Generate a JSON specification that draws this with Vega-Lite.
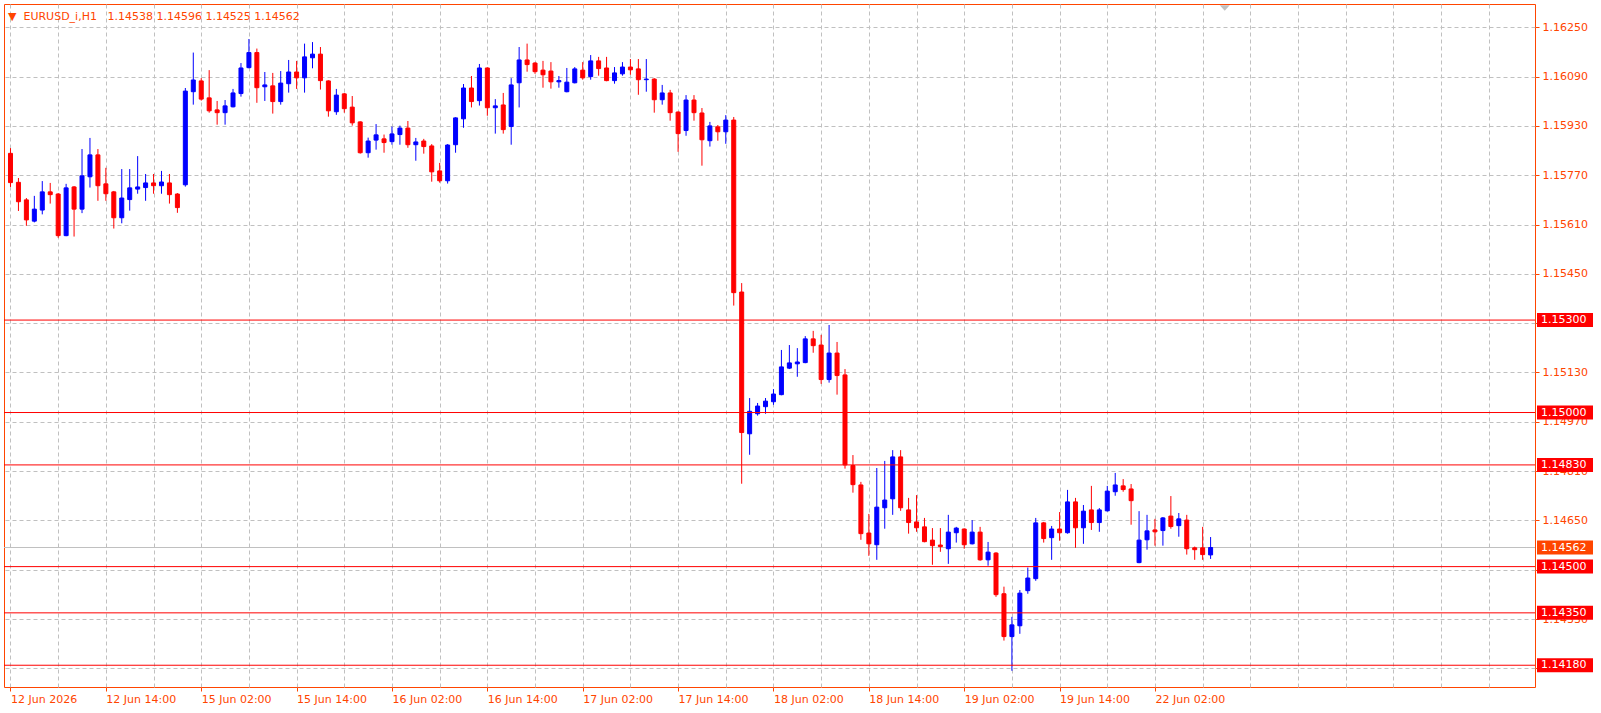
{
  "$schema": "https://vega.github.io/schema/vega-lite/v6.json",
  "width": 1531,
  "height": 683,
  "autosize": {"type": "none"},
  "padding": {"left": 4, "top": 4, "right": 66, "bottom": 26},
  "background": "white",
  "config": {
    "view": {"stroke": "#ff4500", "strokeWidth": 1},
    "font": "DejaVu Sans",
    "axis": {"labelFont": "DejaVu Sans", "labelFontSize": 11}
  },
  "title": {
    "text": "▼\u00a0\u00a0EURUSD_i,H1\u00a0\u00a0\u00a01.14538 1.14596 1.14525 1.14562",
    "anchor": "start",
    "orient": "top",
    "frame": "group",
    "offset": -18,
    "dx": 4,
    "baseline": "top",
    "font": "DejaVu Sans",
    "fontSize": 11,
    "fontWeight": "normal",
    "color": "#ff4500"
  },
  "datasets": {
    "bars": [
      {"t":"2026-06-12 02:00","i":0,"o":1.15841,"h":1.15858,"l":1.15732,"c":1.15746},
      {"t":"2026-06-12 03:00","i":1,"o":1.15747,"h":1.15761,"l":1.15654,"c":1.15684},
      {"t":"2026-06-12 04:00","i":2,"o":1.15690,"h":1.15696,"l":1.15606,"c":1.15625},
      {"t":"2026-06-12 05:00","i":3,"o":1.15621,"h":1.15703,"l":1.15617,"c":1.15660},
      {"t":"2026-06-12 06:00","i":4,"o":1.15657,"h":1.15751,"l":1.15643,"c":1.15716},
      {"t":"2026-06-12 07:00","i":5,"o":1.15716,"h":1.15745,"l":1.15678,"c":1.15707},
      {"t":"2026-06-12 08:00","i":6,"o":1.15709,"h":1.15712,"l":1.15567,"c":1.15574},
      {"t":"2026-06-12 09:00","i":7,"o":1.15574,"h":1.15742,"l":1.15572,"c":1.15729},
      {"t":"2026-06-12 10:00","i":8,"o":1.15732,"h":1.15735,"l":1.15571,"c":1.15660},
      {"t":"2026-06-12 11:00","i":9,"o":1.15660,"h":1.15855,"l":1.15647,"c":1.15768},
      {"t":"2026-06-12 12:00","i":10,"o":1.15765,"h":1.15891,"l":1.15730,"c":1.15836},
      {"t":"2026-06-12 13:00","i":11,"o":1.15836,"h":1.15855,"l":1.15687,"c":1.15736},
      {"t":"2026-06-12 14:00","i":12,"o":1.15742,"h":1.15794,"l":1.15687,"c":1.15710},
      {"t":"2026-06-12 15:00","i":13,"o":1.15716,"h":1.15719,"l":1.15597,"c":1.15632},
      {"t":"2026-06-12 16:00","i":14,"o":1.15632,"h":1.15790,"l":1.15614,"c":1.15696},
      {"t":"2026-06-12 17:00","i":15,"o":1.15691,"h":1.15790,"l":1.15655,"c":1.15729},
      {"t":"2026-06-12 18:00","i":16,"o":1.15725,"h":1.15832,"l":1.15710,"c":1.15732},
      {"t":"2026-06-12 19:00","i":17,"o":1.15730,"h":1.15774,"l":1.15687,"c":1.15745},
      {"t":"2026-06-12 20:00","i":18,"o":1.15745,"h":1.15774,"l":1.15710,"c":1.15736},
      {"t":"2026-06-12 21:00","i":19,"o":1.15736,"h":1.15784,"l":1.15710,"c":1.15748},
      {"t":"2026-06-12 22:00","i":20,"o":1.15745,"h":1.15774,"l":1.15678,"c":1.15707},
      {"t":"2026-06-12 23:00","i":21,"o":1.15709,"h":1.15712,"l":1.15648,"c":1.15665},
      {"t":"2026-06-15 00:00","i":22,"o":1.15739,"h":1.16053,"l":1.15733,"c":1.16043},
      {"t":"2026-06-15 01:00","i":23,"o":1.16041,"h":1.16168,"l":1.15999,"c":1.16079},
      {"t":"2026-06-15 02:00","i":24,"o":1.16076,"h":1.16085,"l":1.16012,"c":1.16017},
      {"t":"2026-06-15 03:00","i":25,"o":1.16021,"h":1.16111,"l":1.15973,"c":1.15979},
      {"t":"2026-06-15 04:00","i":26,"o":1.15982,"h":1.16011,"l":1.15934,"c":1.15973},
      {"t":"2026-06-15 05:00","i":27,"o":1.15973,"h":1.16014,"l":1.15934,"c":1.15995},
      {"t":"2026-06-15 06:00","i":28,"o":1.15992,"h":1.16050,"l":1.15990,"c":1.16037},
      {"t":"2026-06-15 07:00","i":29,"o":1.16035,"h":1.16134,"l":1.16025,"c":1.16118},
      {"t":"2026-06-15 08:00","i":30,"o":1.16119,"h":1.16212,"l":1.16117,"c":1.16168},
      {"t":"2026-06-15 09:00","i":31,"o":1.16168,"h":1.16181,"l":1.16005,"c":1.16054},
      {"t":"2026-06-15 10:00","i":32,"o":1.16057,"h":1.16105,"l":1.16011,"c":1.16063},
      {"t":"2026-06-15 11:00","i":33,"o":1.16060,"h":1.16102,"l":1.15970,"c":1.16009},
      {"t":"2026-06-15 12:00","i":34,"o":1.16009,"h":1.16108,"l":1.15999,"c":1.16069},
      {"t":"2026-06-15 13:00","i":35,"o":1.16067,"h":1.16144,"l":1.16038,"c":1.16105},
      {"t":"2026-06-15 14:00","i":36,"o":1.16105,"h":1.16141,"l":1.16050,"c":1.16086},
      {"t":"2026-06-15 15:00","i":37,"o":1.16086,"h":1.16197,"l":1.16038,"c":1.16154},
      {"t":"2026-06-15 16:00","i":38,"o":1.16151,"h":1.16202,"l":1.16117,"c":1.16163},
      {"t":"2026-06-15 17:00","i":39,"o":1.16163,"h":1.16186,"l":1.16048,"c":1.16077},
      {"t":"2026-06-15 18:00","i":40,"o":1.16076,"h":1.16078,"l":1.15960,"c":1.15979},
      {"t":"2026-06-15 19:00","i":41,"o":1.15976,"h":1.16050,"l":1.15966,"c":1.16030},
      {"t":"2026-06-15 20:00","i":42,"o":1.16034,"h":1.16037,"l":1.15973,"c":1.15986},
      {"t":"2026-06-15 21:00","i":43,"o":1.15991,"h":1.16027,"l":1.15931,"c":1.15940},
      {"t":"2026-06-15 22:00","i":44,"o":1.15943,"h":1.15945,"l":1.15840,"c":1.15843},
      {"t":"2026-06-15 23:00","i":45,"o":1.15843,"h":1.15892,"l":1.15827,"c":1.15881},
      {"t":"2026-06-16 00:00","i":46,"o":1.15884,"h":1.15936,"l":1.15853,"c":1.15901},
      {"t":"2026-06-16 01:00","i":47,"o":1.15888,"h":1.15902,"l":1.15843,"c":1.15876},
      {"t":"2026-06-16 02:00","i":48,"o":1.15879,"h":1.15928,"l":1.15869,"c":1.15904},
      {"t":"2026-06-16 03:00","i":49,"o":1.15902,"h":1.15931,"l":1.15869,"c":1.15923},
      {"t":"2026-06-16 04:00","i":50,"o":1.15923,"h":1.15946,"l":1.15859,"c":1.15869},
      {"t":"2026-06-16 05:00","i":51,"o":1.15869,"h":1.15891,"l":1.15817,"c":1.15878},
      {"t":"2026-06-16 06:00","i":52,"o":1.15881,"h":1.15888,"l":1.15840,"c":1.15863},
      {"t":"2026-06-16 07:00","i":53,"o":1.15865,"h":1.15871,"l":1.15749,"c":1.15781},
      {"t":"2026-06-16 08:00","i":54,"o":1.15784,"h":1.15810,"l":1.15746,"c":1.15752},
      {"t":"2026-06-16 09:00","i":55,"o":1.15752,"h":1.15871,"l":1.15743,"c":1.15868},
      {"t":"2026-06-16 10:00","i":56,"o":1.15869,"h":1.15958,"l":1.15843,"c":1.15956},
      {"t":"2026-06-16 11:00","i":57,"o":1.15953,"h":1.16066,"l":1.15924,"c":1.16053},
      {"t":"2026-06-16 12:00","i":58,"o":1.16053,"h":1.16092,"l":1.15990,"c":1.16009},
      {"t":"2026-06-16 13:00","i":59,"o":1.16012,"h":1.16131,"l":1.15996,"c":1.16118},
      {"t":"2026-06-16 14:00","i":60,"o":1.16118,"h":1.16120,"l":1.15963,"c":1.15989},
      {"t":"2026-06-16 15:00","i":61,"o":1.15989,"h":1.16017,"l":1.15905,"c":1.15995},
      {"t":"2026-06-16 16:00","i":62,"o":1.15998,"h":1.16037,"l":1.15905,"c":1.15918},
      {"t":"2026-06-16 17:00","i":63,"o":1.15928,"h":1.16085,"l":1.15869,"c":1.16063},
      {"t":"2026-06-16 18:00","i":64,"o":1.16070,"h":1.16186,"l":1.15990,"c":1.16144},
      {"t":"2026-06-16 19:00","i":65,"o":1.16144,"h":1.16197,"l":1.16106,"c":1.16129},
      {"t":"2026-06-16 20:00","i":66,"o":1.16134,"h":1.16137,"l":1.16099,"c":1.16106},
      {"t":"2026-06-16 21:00","i":67,"o":1.16111,"h":1.16141,"l":1.16054,"c":1.16096},
      {"t":"2026-06-16 22:00","i":68,"o":1.16108,"h":1.16137,"l":1.16051,"c":1.16073},
      {"t":"2026-06-16 23:00","i":69,"o":1.16073,"h":1.16092,"l":1.16054,"c":1.16077},
      {"t":"2026-06-17 00:00","i":70,"o":1.16041,"h":1.16118,"l":1.16039,"c":1.16072},
      {"t":"2026-06-17 01:00","i":71,"o":1.16070,"h":1.16121,"l":1.16068,"c":1.16115},
      {"t":"2026-06-17 02:00","i":72,"o":1.16111,"h":1.16137,"l":1.16080,"c":1.16086},
      {"t":"2026-06-17 03:00","i":73,"o":1.16090,"h":1.16160,"l":1.16080,"c":1.16141},
      {"t":"2026-06-17 04:00","i":74,"o":1.16141,"h":1.16154,"l":1.16093,"c":1.16116},
      {"t":"2026-06-17 05:00","i":75,"o":1.16118,"h":1.16154,"l":1.16075,"c":1.16077},
      {"t":"2026-06-17 06:00","i":76,"o":1.16077,"h":1.16121,"l":1.16067,"c":1.16102},
      {"t":"2026-06-17 07:00","i":77,"o":1.16099,"h":1.16137,"l":1.16093,"c":1.16121},
      {"t":"2026-06-17 08:00","i":78,"o":1.16121,"h":1.16147,"l":1.16096,"c":1.16112},
      {"t":"2026-06-17 09:00","i":79,"o":1.16115,"h":1.16147,"l":1.16031,"c":1.16080},
      {"t":"2026-06-17 10:00","i":80,"o":1.16080,"h":1.16147,"l":1.16041,"c":1.16082},
      {"t":"2026-06-17 11:00","i":81,"o":1.16082,"h":1.16085,"l":1.15973,"c":1.16015},
      {"t":"2026-06-17 12:00","i":82,"o":1.16015,"h":1.16063,"l":1.15999,"c":1.16037},
      {"t":"2026-06-17 13:00","i":83,"o":1.16037,"h":1.16047,"l":1.15947,"c":1.15973},
      {"t":"2026-06-17 14:00","i":84,"o":1.15975,"h":1.15977,"l":1.15846,"c":1.15905},
      {"t":"2026-06-17 15:00","i":85,"o":1.15915,"h":1.16030,"l":1.15898,"c":1.16014},
      {"t":"2026-06-17 16:00","i":86,"o":1.16014,"h":1.16030,"l":1.15947,"c":1.15973},
      {"t":"2026-06-17 17:00","i":87,"o":1.15972,"h":1.15988,"l":1.15801,"c":1.15885},
      {"t":"2026-06-17 18:00","i":88,"o":1.15882,"h":1.15943,"l":1.15863,"c":1.15930},
      {"t":"2026-06-17 19:00","i":89,"o":1.15927,"h":1.15933,"l":1.15882,"c":1.15911},
      {"t":"2026-06-17 20:00","i":90,"o":1.15911,"h":1.15965,"l":1.15872,"c":1.15949},
      {"t":"2026-06-17 21:00","i":91,"o":1.15949,"h":1.15959,"l":1.15347,"c":1.15389},
      {"t":"2026-06-17 22:00","i":92,"o":1.15391,"h":1.15420,"l":1.14769,"c":1.14935},
      {"t":"2026-06-17 23:00","i":93,"o":1.14931,"h":1.15047,"l":1.14863,"c":1.15004},
      {"t":"2026-06-18 00:00","i":94,"o":1.14996,"h":1.15031,"l":1.14990,"c":1.15021},
      {"t":"2026-06-18 01:00","i":95,"o":1.15019,"h":1.15047,"l":1.14996,"c":1.15037},
      {"t":"2026-06-18 02:00","i":96,"o":1.15035,"h":1.15076,"l":1.15025,"c":1.15060},
      {"t":"2026-06-18 03:00","i":97,"o":1.15058,"h":1.15203,"l":1.15056,"c":1.15148},
      {"t":"2026-06-18 04:00","i":98,"o":1.15144,"h":1.15219,"l":1.15141,"c":1.15161},
      {"t":"2026-06-18 05:00","i":99,"o":1.15158,"h":1.15209,"l":1.15116,"c":1.15164},
      {"t":"2026-06-18 06:00","i":100,"o":1.15162,"h":1.15248,"l":1.15160,"c":1.15239},
      {"t":"2026-06-18 07:00","i":101,"o":1.15239,"h":1.15265,"l":1.15194,"c":1.15217},
      {"t":"2026-06-18 08:00","i":102,"o":1.15219,"h":1.15252,"l":1.15093,"c":1.15107},
      {"t":"2026-06-18 09:00","i":103,"o":1.15107,"h":1.15284,"l":1.15097,"c":1.15193},
      {"t":"2026-06-18 10:00","i":104,"o":1.15193,"h":1.15229,"l":1.15058,"c":1.15120},
      {"t":"2026-06-18 11:00","i":105,"o":1.15122,"h":1.15141,"l":1.14818,"c":1.14830},
      {"t":"2026-06-18 12:00","i":106,"o":1.14828,"h":1.14862,"l":1.14740,"c":1.14766},
      {"t":"2026-06-18 13:00","i":107,"o":1.14765,"h":1.14775,"l":1.14587,"c":1.14607},
      {"t":"2026-06-18 14:00","i":108,"o":1.14609,"h":1.14671,"l":1.14535,"c":1.14574},
      {"t":"2026-06-18 15:00","i":109,"o":1.14571,"h":1.14820,"l":1.14522,"c":1.14693},
      {"t":"2026-06-18 16:00","i":110,"o":1.14691,"h":1.14843,"l":1.14623,"c":1.14716},
      {"t":"2026-06-18 17:00","i":111,"o":1.14720,"h":1.14878,"l":1.14668,"c":1.14856},
      {"t":"2026-06-18 18:00","i":112,"o":1.14856,"h":1.14878,"l":1.14681,"c":1.14691},
      {"t":"2026-06-18 19:00","i":113,"o":1.14684,"h":1.14723,"l":1.14607,"c":1.14643},
      {"t":"2026-06-18 20:00","i":114,"o":1.14645,"h":1.14732,"l":1.14613,"c":1.14626},
      {"t":"2026-06-18 21:00","i":115,"o":1.14629,"h":1.14658,"l":1.14579,"c":1.14581},
      {"t":"2026-06-18 22:00","i":116,"o":1.14586,"h":1.14625,"l":1.14506,"c":1.14568},
      {"t":"2026-06-18 23:00","i":117,"o":1.14570,"h":1.14625,"l":1.14548,"c":1.14565},
      {"t":"2026-06-19 00:00","i":118,"o":1.14558,"h":1.14668,"l":1.14509,"c":1.14612},
      {"t":"2026-06-19 01:00","i":119,"o":1.14610,"h":1.14629,"l":1.14578,"c":1.14625},
      {"t":"2026-06-19 02:00","i":120,"o":1.14622,"h":1.14624,"l":1.14558,"c":1.14571},
      {"t":"2026-06-19 03:00","i":121,"o":1.14574,"h":1.14651,"l":1.14572,"c":1.14612},
      {"t":"2026-06-19 04:00","i":122,"o":1.14612,"h":1.14629,"l":1.14519,"c":1.14522},
      {"t":"2026-06-19 05:00","i":123,"o":1.14522,"h":1.14580,"l":1.14503,"c":1.14547},
      {"t":"2026-06-19 06:00","i":124,"o":1.14544,"h":1.14547,"l":1.14402,"c":1.14409},
      {"t":"2026-06-19 07:00","i":125,"o":1.14412,"h":1.14435,"l":1.14260,"c":1.14273},
      {"t":"2026-06-19 08:00","i":126,"o":1.14273,"h":1.14337,"l":1.14162,"c":1.14311},
      {"t":"2026-06-19 09:00","i":127,"o":1.14308,"h":1.14424,"l":1.14282,"c":1.14414},
      {"t":"2026-06-19 10:00","i":128,"o":1.14422,"h":1.14497,"l":1.14412,"c":1.14463},
      {"t":"2026-06-19 11:00","i":129,"o":1.14461,"h":1.14658,"l":1.14454,"c":1.14642},
      {"t":"2026-06-19 12:00","i":130,"o":1.14642,"h":1.14645,"l":1.14578,"c":1.14591},
      {"t":"2026-06-19 13:00","i":131,"o":1.14594,"h":1.14632,"l":1.14522,"c":1.14622},
      {"t":"2026-06-19 14:00","i":132,"o":1.14622,"h":1.14677,"l":1.14584,"c":1.14610},
      {"t":"2026-06-19 15:00","i":133,"o":1.14610,"h":1.14749,"l":1.14607,"c":1.14710},
      {"t":"2026-06-19 16:00","i":134,"o":1.14710,"h":1.14723,"l":1.14561,"c":1.14626},
      {"t":"2026-06-19 17:00","i":135,"o":1.14626,"h":1.14700,"l":1.14574,"c":1.14680},
      {"t":"2026-06-19 18:00","i":136,"o":1.14684,"h":1.14762,"l":1.14619,"c":1.14643},
      {"t":"2026-06-19 19:00","i":137,"o":1.14643,"h":1.14690,"l":1.14613,"c":1.14684},
      {"t":"2026-06-19 20:00","i":138,"o":1.14681,"h":1.14762,"l":1.14679,"c":1.14745},
      {"t":"2026-06-19 21:00","i":139,"o":1.14743,"h":1.14804,"l":1.14730,"c":1.14765},
      {"t":"2026-06-19 22:00","i":140,"o":1.14762,"h":1.14784,"l":1.14743,"c":1.14750},
      {"t":"2026-06-19 23:00","i":141,"o":1.14752,"h":1.14768,"l":1.14636,"c":1.14714},
      {"t":"2026-06-22 00:00","i":142,"o":1.14513,"h":1.14680,"l":1.14511,"c":1.14586},
      {"t":"2026-06-22 01:00","i":143,"o":1.14587,"h":1.14668,"l":1.14555,"c":1.14616},
      {"t":"2026-06-22 02:00","i":144,"o":1.14619,"h":1.14655,"l":1.14568,"c":1.14613},
      {"t":"2026-06-22 03:00","i":145,"o":1.14617,"h":1.14661,"l":1.14568,"c":1.14658},
      {"t":"2026-06-22 04:00","i":146,"o":1.14664,"h":1.14729,"l":1.14623,"c":1.14630},
      {"t":"2026-06-22 05:00","i":147,"o":1.14633,"h":1.14674,"l":1.14597,"c":1.14655},
      {"t":"2026-06-22 06:00","i":148,"o":1.14651,"h":1.14668,"l":1.14539,"c":1.14558},
      {"t":"2026-06-22 07:00","i":149,"o":1.14561,"h":1.14565,"l":1.14522,"c":1.14555},
      {"t":"2026-06-22 08:00","i":150,"o":1.14561,"h":1.14629,"l":1.14522,"c":1.14539},
      {"t":"2026-06-22 09:00","i":151,"o":1.14538,"h":1.14596,"l":1.14525,"c":1.14562}
    ],
    "levels": [
      {"level": 1.15300},
      {"level": 1.15000},
      {"level": 1.14830},
      {"level": 1.14500},
      {"level": 1.14350},
      {"level": 1.14180}
    ],
    "last": [{"price": 1.14562}],
    "shift": [{"pos": 152.78, "price": 1.16313}]
  },
  "layer": [
    {
      "data": {"name": "last"},
      "mark": {"type": "rule", "color": "#c0c0c0", "strokeWidth": 1},
      "encoding": {
        "y": {"field": "price", "type": "quantitative", "scale": {"domain": [1.141094, 1.163256], "nice": false, "zero": false}}
      }
    },
    {
      "data": {"name": "bars"},
      "mark": {"type": "rule", "strokeWidth": 1, "clip": true},
      "encoding": {
        "x": {
          "field": "i", "type": "quantitative",
          "scale": {"domain": [-0.1875, 191.1875], "nice": false, "zero": false},
          "axis": {
            "orient": "bottom",
            "values": [0,6,12,18,24,30,36,42,48,54,60,66,72,78,84,90,96,102,108,114,120,126,132,138,144,150,156,162,168,174,180,186],
            "grid": true, "gridColor": "#c0c0c0", "gridDash": [4, 3], "gridWidth": 1,
            "domain": false,
            "ticks": true, "tickSize": 4, "tickColor": "#ff4500",
            "tickOpacity": {"condition": {"test": "datum.value % 12 === 0 && datum.value <= 144", "value": 1}, "value": 0},
            "labelExpr": "datum.value % 12 === 0 && datum.value <= 144 ? ['12 Jun 2026','12 Jun 14:00','15 Jun 02:00','15 Jun 14:00','16 Jun 02:00','16 Jun 14:00','17 Jun 02:00','17 Jun 14:00','18 Jun 02:00','18 Jun 14:00','19 Jun 02:00','19 Jun 14:00','22 Jun 02:00'][datum.value / 12] : ''",
            "labelAlign": "left", "labelBaseline": "top", "labelPadding": 2,
            "labelColor": "#ff4500", "labelFontSize": 11,
            "labelOverlap": false, "labelFlush": false, "labelBound": false,
            "title": null
          }
        },
        "y": {
          "field": "l", "type": "quantitative",
          "scale": {"domain": [1.141094, 1.163256], "nice": false, "zero": false},
          "axis": {
            "orient": "right",
            "values": [1.1417,1.1433,1.1449,1.1465,1.1481,1.1497,1.1513,1.1529,1.1545,1.1561,1.1577,1.1593,1.1609,1.1625],
            "format": ".5f",
            "grid": true, "gridColor": "#c0c0c0", "gridDash": [4, 3], "gridWidth": 1,
            "domain": false,
            "tickSize": 4, "tickColor": "#ff4500",
            "labelPadding": 3, "labelColor": "#ff4500", "labelFontSize": 11,
            "labelOverlap": false, "labelFlush": false, "labelBound": false,
            "title": null
          }
        },
        "y2": {"field": "h"},
        "color": {"condition": {"test": "datum.c > datum.o", "value": "#0000ff"}, "value": "#ff0000"}
      }
    },
    {
      "data": {"name": "bars"},
      "mark": {"type": "bar", "width": 4, "strokeWidth": 1, "clip": true},
      "encoding": {
        "x": {"field": "i", "type": "quantitative", "scale": {"domain": [-0.1875, 191.1875], "nice": false, "zero": false}},
        "y": {"field": "o", "type": "quantitative", "scale": {"domain": [1.141094, 1.163256], "nice": false, "zero": false}},
        "y2": {"field": "c"},
        "fill": {"condition": {"test": "datum.c > datum.o", "value": "#0000ff"}, "value": "#ff0000"},
        "stroke": {"condition": {"test": "datum.c > datum.o", "value": "#0000ff"}, "value": "#ff0000"}
      }
    },
    {
      "data": {"name": "levels"},
      "mark": {"type": "rule", "color": "#ff0000", "strokeWidth": 1},
      "encoding": {
        "y": {"field": "level", "type": "quantitative", "scale": {"domain": [1.141094, 1.163256], "nice": false, "zero": false}}
      }
    },
    {
      "data": {"name": "levels"},
      "mark": {"type": "rule", "color": "#ff0000", "strokeWidth": 14, "strokeCap": "butt", "xOffset": 2, "x2Offset": 58},
      "encoding": {
        "x": {"value": "width"},
        "x2": {"value": "width"},
        "y": {"field": "level", "type": "quantitative", "scale": {"domain": [1.141094, 1.163256], "nice": false, "zero": false}}
      }
    },
    {
      "data": {"name": "levels"},
      "mark": {"type": "text", "color": "white", "align": "left", "baseline": "middle", "dx": 6, "font": "DejaVu Sans", "fontSize": 11},
      "encoding": {
        "x": {"value": "width"},
        "y": {"field": "level", "type": "quantitative", "scale": {"domain": [1.141094, 1.163256], "nice": false, "zero": false}},
        "text": {"field": "level", "type": "quantitative", "format": ".5f"}
      }
    },
    {
      "data": {"name": "last"},
      "mark": {"type": "rule", "color": "#ff4500", "strokeWidth": 14, "strokeCap": "butt", "xOffset": 2, "x2Offset": 58},
      "encoding": {
        "x": {"value": "width"},
        "x2": {"value": "width"},
        "y": {"field": "price", "type": "quantitative", "scale": {"domain": [1.141094, 1.163256], "nice": false, "zero": false}}
      }
    },
    {
      "data": {"name": "last"},
      "mark": {"type": "text", "color": "white", "align": "left", "baseline": "middle", "dx": 6, "font": "DejaVu Sans", "fontSize": 11},
      "encoding": {
        "x": {"value": "width"},
        "y": {"field": "price", "type": "quantitative", "scale": {"domain": [1.141094, 1.163256], "nice": false, "zero": false}},
        "text": {"field": "price", "type": "quantitative", "format": ".5f"}
      }
    },
    {
      "data": {"name": "shift"},
      "mark": {"type": "point", "shape": "M-1,-0.55L1,-0.55L0,0.55Z", "filled": true, "size": 100, "color": "#c0c0c0", "opacity": 1},
      "encoding": {
        "x": {"field": "pos", "type": "quantitative", "scale": {"domain": [-0.1875, 191.1875], "nice": false, "zero": false}},
        "y": {"field": "price", "type": "quantitative", "scale": {"domain": [1.141094, 1.163256], "nice": false, "zero": false}}
      }
    }
  ]
}
